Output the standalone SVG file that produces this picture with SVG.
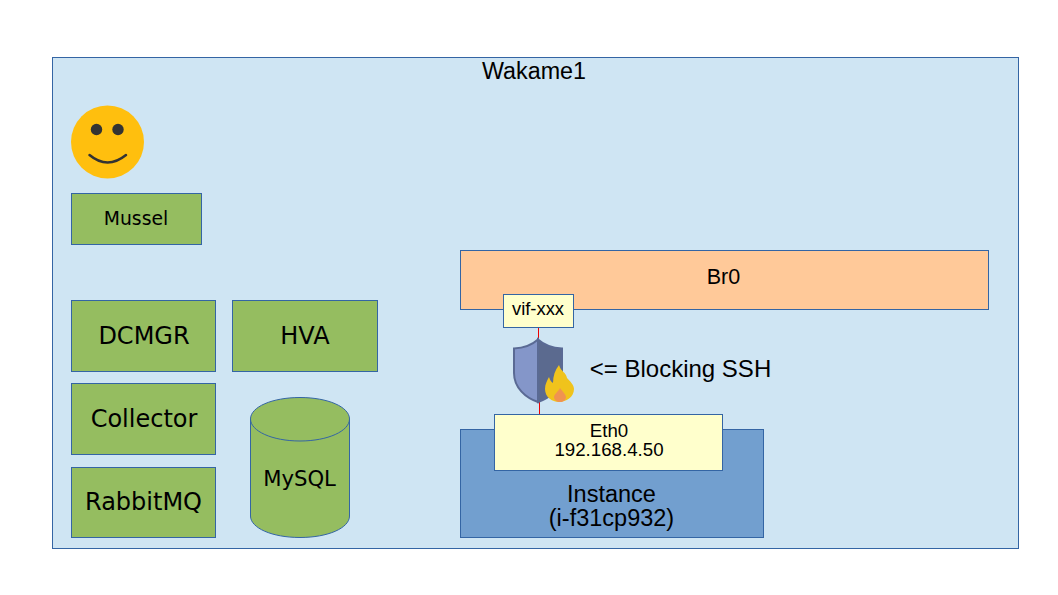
<svg xmlns="http://www.w3.org/2000/svg" width="1058" height="595" viewBox="0 0 1058 595">
<style>
text{font-family:"DejaVu Sans",sans-serif;fill:#000;text-anchor:middle}
.l{font-family:"Liberation Sans",sans-serif}
.b{stroke:#3465a4;stroke-width:1}
.g{fill:#95bd60}
.y{fill:#ffffcc}
</style>
<rect width="1058" height="595" fill="#fff"/>
<g id="wakame1"><rect class="b" x="52.500" y="57.500" width="966" height="491" fill="#cfe5f3"/><text class="l" x="534" y="79" font-size="23.300">Wakame1</text></g>
<g id="user">
<circle cx="107.500" cy="142" r="36.500" fill="#ffbf0e"/>
<circle cx="96.500" cy="129.500" r="5.700" fill="#333"/><circle cx="118" cy="129.500" r="5.700" fill="#333"/>
<path d="M89.500 155Q107.500 170 126 155" fill="none" stroke="#333" stroke-width="2.500" stroke-linecap="round"/>
</g>
<g id="mussel"><rect class="b g" x="71.500" y="193.500" width="130" height="51"/><text x="136" y="225" font-size="18.800">Mussel</text></g>
<g id="dcmgr"><rect class="b g" x="71.500" y="300.500" width="144" height="71"/><text x="144" y="344" font-size="24">DCMGR</text></g>
<g id="hva"><rect class="b g" x="232.500" y="300.500" width="145" height="71"/><text x="305" y="344" font-size="24">HVA</text></g>
<g id="collector"><rect class="b g" x="71.500" y="383.500" width="144" height="71"/><text x="144" y="427" font-size="24">Collector</text></g>
<g id="rabbitmq"><rect class="b g" x="71.500" y="467.500" width="144" height="70"/><text x="143.500" y="510" font-size="24">RabbitMQ</text></g>
<g id="mysql">
<path class="b g" d="M250.500 419C250.500 407 272 397.500 300 397.500S349.500 407 349.500 419V516C349.500 528 328 537.500 300 537.500S250.500 528 250.500 516Z"/>
<path class="b" fill="none" d="M250.500 419C250.500 431 272 441 300 441S349.500 431 349.500 419"/>
<text x="299.500" y="486" font-size="21.200">MySQL</text>
</g>
<g id="br0"><rect class="b" x="460.500" y="250.500" width="528" height="59" fill="#ffc999"/><text class="l" x="723.500" y="284" font-size="21.500">Br0</text></g>
<g id="connectors">
<path d="M538.500 327V348" stroke="#e00" stroke-width="1" fill="none"/>
<path d="M539.500 400V414" stroke="#e00" stroke-width="1" fill="none"/>
</g>
<g id="vif"><rect class="b y" x="503.500" y="294.500" width="70" height="33"/><text class="l" x="538" y="315" font-size="18.400">vif-xxx</text></g>
<g id="firewall">
<path d="M538 339.500C532 345 523 348 514 348.500V373C514 388 526 398 538 402Z" fill="#8496c9" stroke="#5a6a94" stroke-width="2"/>
<path d="M538 339.500C544 345 553 348 562 348.500V373C562 388 550 398 538 402Z" fill="#5b6a8f" stroke="#5a6a94" stroke-width="2"/>
<path d="M559 365C561 372 566 372 567 378C570 381 574 385 574 389C574 397 566 402 559 402C552 402 545 397 545 389C545 384 547 381 549 377C550 380 551 382 553 383C553 376 555 370 559 365Z" fill="#f0c31c"/>
<path d="M560 388C563 392 566 395 566 397C566 400 563 402 560 402C557 402 554 400 554 397C554 394 558 392 560 388Z" fill="#f09350"/>
</g>
<text class="l" x="680.500" y="377" font-size="24">&lt;= Blocking SSH</text>
<g id="instance"><rect class="b" x="460.500" y="429.500" width="303" height="108" fill="#729fcf"/><text class="l" font-size="23.500"><tspan x="611.500" y="502">Instance</tspan><tspan x="611.500" y="526">(i-f31cp932)</tspan></text></g>
<g id="eth0"><rect class="b y" x="494.500" y="414.500" width="228" height="56"/><text class="l" font-size="18.700"><tspan x="609" y="437">Eth0</tspan><tspan x="609" y="456">192.168.4.50</tspan></text></g>
</svg>
